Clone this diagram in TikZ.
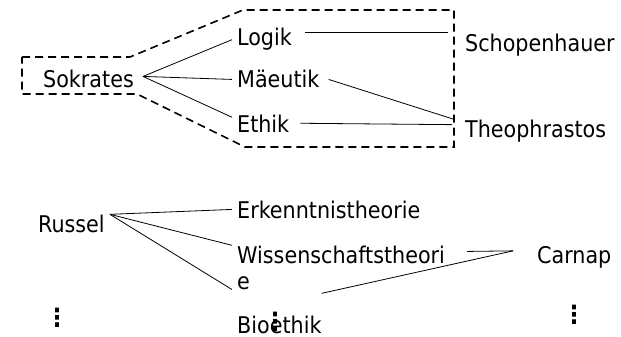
\documentclass[tikz,border=0pt]{standalone}
\usepackage{fontspec}
\setmainfont{DejaVu Sans Condensed}
\usepackage{tikz}
\usetikzlibrary{
  calc,
  }

\begin{document}
\begin{tikzpicture}[x=1pt, y=-1pt,
        every node/.style={inner xsep=5pt, inner ysep=0pt, anchor=base west,
                           font=\fontsize{23}{26}\selectfont},
        link/.style={line width=0.8pt},
        frame/.style={line width=1.6pt, dash pattern=on 8pt off 5pt},
        dots/.style={anchor=center, inner sep=0pt, font=\fontsize{25}{26}\selectfont\bfseries}]
                \useasboundingbox (0,0) rectangle (621,337);

                \node (sokrates) at (38,88) {Sokrates};
                \node (logik) at (232,46) {Logik};
                \node (maeutik) at (232,88) {Mäeutik};
                \node (ethik) at (232,132) {Ethik};
                \node (schopenhauer) at (460,52) {Schopenhauer};
                \node (theophrastos) at (460,137) {Theophrastos};

                \node (russel) at (33,232) {Russel};
                \node (erkenntnis) at (232,218) {Erkenntnistheorie};
                \node[align=left] (wissen) at (232,289) {Wissenschaftstheori\\e};
                \node (bioethik) at (232,333) {Bioethik};
                \node (carnap) at (532,263) {Carnap};

                \node[dots] (dots1) at (57,318) {⋮};
                \node[dots] (dots2) at (275,322) {⋮};
                \node[dots] (dots3) at (574,315) {⋮};

                \draw[frame] (22,57) -- (130,57) -- (243,10) -- (454,10)
                    -- (454,147) -- (245,147) -- (137,94) -- (22,94) -- cycle;

                \draw[link] ([xshift=4pt,yshift=3pt]sokrates.east) -- (logik.west);
                \draw[link] ([xshift=4pt,yshift=3pt]sokrates.east) -- (maeutik.west);
                \draw[link] ([xshift=4pt,yshift=3pt]sokrates.east) -- ([yshift=6pt]ethik.west);
                \draw[link] ([xshift=8pt,yshift=7pt]logik.east) -- ([xshift=-12pt,yshift=13pt]schopenhauer.west);
                \draw[link] ([xshift=4pt]maeutik.east) -- ([xshift=-6pt]theophrastos.north west);
                \draw[link] ([xshift=6pt]ethik.east) -- ([xshift=-8pt,yshift=6pt]theophrastos.west);

                \draw[link] (russel.north east) -- (erkenntnis.west);
                \draw[link] (russel.north east) -- (wissen.north west);
                \draw[link] (russel.north east) -- (wissen.south west);
                \draw[link] ([xshift=17pt,yshift=16pt]wissen.east) -- ([xshift=-19pt,yshift=6pt]carnap.west);
                \draw[link] ([xshift=-5pt,yshift=22pt]bioethik.north east) -- ([xshift=-19pt,yshift=6pt]carnap.west);
\end{tikzpicture}
\end{document}
